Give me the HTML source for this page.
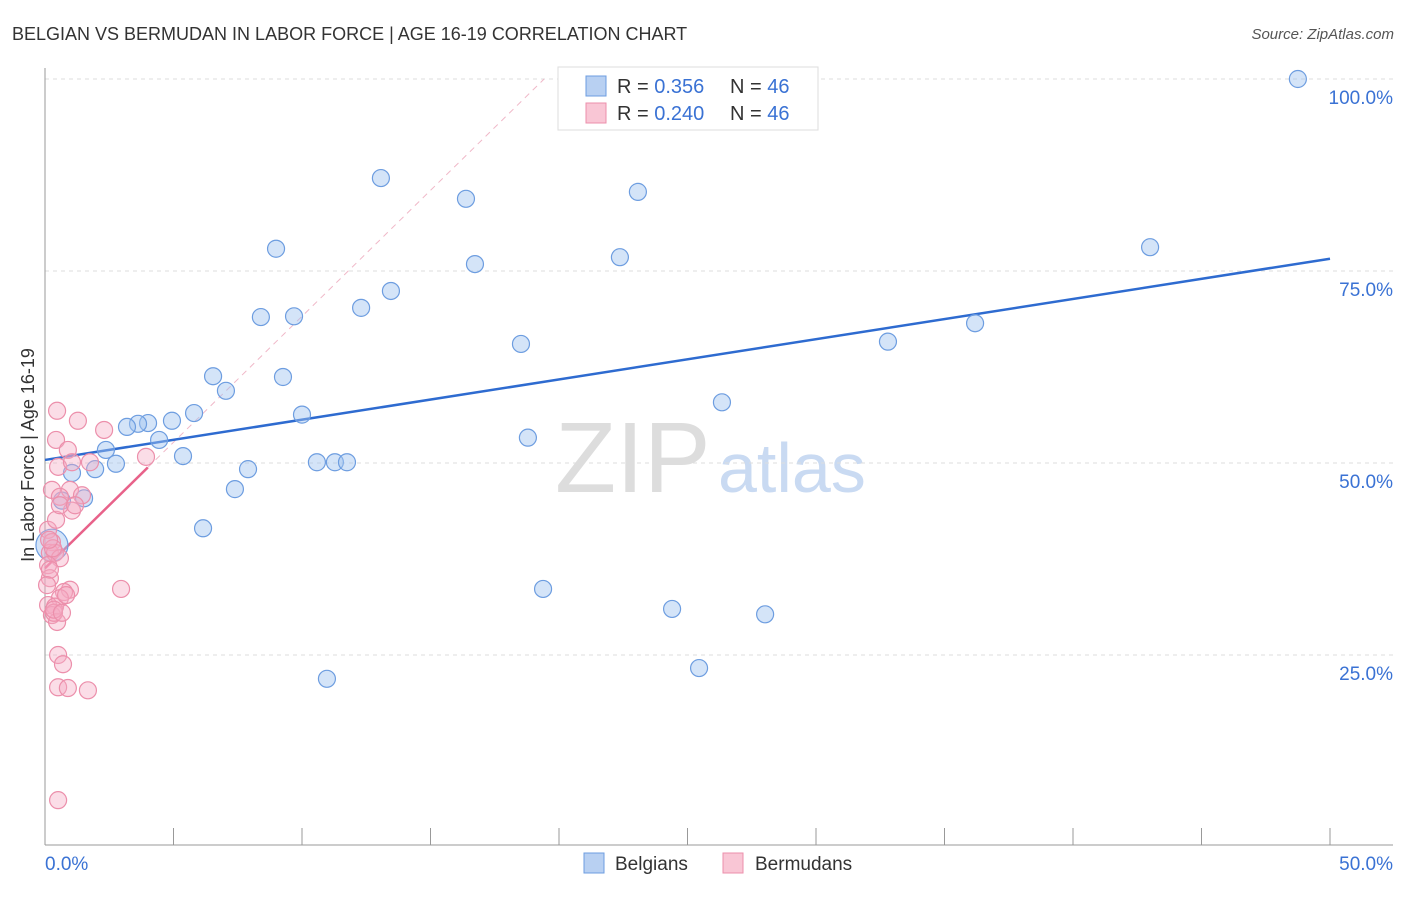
<!DOCTYPE html>
<html><head><meta charset="utf-8"><style>
body{margin:0;background:#fff;font-family:"Liberation Sans",sans-serif;}
svg text{font-family:"Liberation Sans",sans-serif;}
</style></head><body>
<svg id="chart" width="1406" height="892">
<text x="12" y="40" font-size="18" fill="#333">BELGIAN VS BERMUDAN IN LABOR FORCE | AGE 16-19 CORRELATION CHART</text>
<text x="1394" y="39" font-size="15" fill="#555" font-style="italic" text-anchor="end">Source: ZipAtlas.com</text>
<text transform="translate(34,455) rotate(-90)" font-size="18" fill="#333" text-anchor="middle">In Labor Force | Age 16-19</text>
<text x="555" y="492" font-size="100" fill="#ddd" font-family="Liberation Serif">ZIP</text>
<text x="718" y="492" font-size="70" fill="#c9daf2">atlas</text>
<g id="grid"></g><g id="axes"></g><g id="trend"></g><g id="pts"></g>
<g>
<rect x="558" y="67" width="260" height="63" fill="#fff" stroke="#ddd"/>
<rect x="586" y="76" width="20" height="20" fill="#b8d0f2" stroke="#6d9de0"/>
<rect x="586" y="103" width="20" height="20" fill="#f9c6d5" stroke="#ec8fab"/>
<text x="617" y="93" font-size="20" fill="#333">R = <tspan fill="#3a72d4">0.356</tspan></text>
<text x="730" y="93" font-size="20" fill="#333">N = <tspan fill="#3a72d4">46</tspan></text>
<text x="617" y="120" font-size="20" fill="#333">R = <tspan fill="#3a72d4">0.240</tspan></text>
<text x="730" y="120" font-size="20" fill="#333">N = <tspan fill="#3a72d4">46</tspan></text>
</g>
<g><rect x="584" y="853" width="20" height="20" fill="#b8d0f2" stroke="#6d9de0"/><text x="615" y="870" font-size="19" fill="#333">Belgians</text></g>
<g><rect x="723" y="853" width="20" height="20" fill="#f9c6d5" stroke="#ec8fab"/><text x="755" y="870" font-size="19" fill="#333">Bermudans</text></g>
</svg>
<script>
const xTicks=["0.0%","50.0%"];
const yTicks=[100,75,50,25];
const yTickLabels=["100.0%","75.0%","50.0%","25.0%"];
const belgX=[48.75,13.07,16.38,23.07,8.99,16.73,22.37,43.0,13.46,12.30,8.40,9.69,36.19,18.52,32.80,6.54,9.26,7.04,26.34,10.0,5.80,4.94,4.01,3.62,3.19,4.44,18.79,2.37,5.37,10.58,11.28,11.75,2.76,1.95,1.05,7.90,7.39,0.66,1.52,6.15,0.27,19.38,24.40,28.02,25.45,10.97];
const belgY=[100,87.1,84.4,85.3,77.9,75.9,76.8,78.1,72.4,70.2,69.0,69.1,68.2,65.5,65.8,61.3,61.2,59.4,57.9,56.3,56.5,55.5,55.2,55.1,54.7,53.0,53.3,51.7,50.9,50.1,50.1,50.1,49.9,49.2,48.7,49.2,46.6,45.1,45.4,41.5,39.3,33.6,31.0,30.3,23.3,21.9];
const bermX=[0.47,1.28,2.30,0.43,0.89,1.75,0.51,1.05,0.27,0.97,0.58,1.44,1.05,0.12,0.27,0.19,0.39,0.58,0.12,0.19,0.97,0.74,0.58,0.12,0.39,0.27,0.47,0.51,0.70,0.51,0.89,1.67,2.96,3.93,0.51,0.35,0.19,0.31,0.82,0.16,0.43,0.58,1.17,0.35,0.66,0.08];
const bermY=[56.8,55.5,54.3,53.0,51.7,50.1,49.5,50.1,46.5,46.5,45.6,45.8,43.8,41.3,39.7,38.3,38.3,37.6,36.7,35.0,33.5,33.2,32.4,31.5,31.3,30.2,29.3,25.0,23.8,20.8,20.7,20.4,33.6,50.8,6.1,30.5,36.1,38.9,32.8,40.0,42.6,44.5,44.5,30.9,30.5,34.1];
const belgTrend=[50.4,76.6];
const bermTrend=[36.3,3.28];
const X=v=>45+v*1285/50, Y=v=>847-v*7.68;
const NS="http://www.w3.org/2000/svg";
function mk(parent,tag,attrs){const e=document.createElementNS(NS,tag);for(const k in attrs)e.setAttribute(k,attrs[k]);document.getElementById(parent).appendChild(e);return e;}
yTicks.forEach((t,i)=>{
 const l=mk('grid','line',{x1:45,x2:1393,y1:Y(t),y2:Y(t),stroke:'#ddd','stroke-dasharray':'4,4'});
 
 
 const tx=mk('grid','text',{x:1393,y:Y(t)+25,'font-size':19,fill:'#3a72d4','text-anchor':'end'});
 tx.textContent=yTickLabels[i];
 
 
});
mk('axes','line',{x1:45,x2:45,y1:68,y2:845,stroke:'#999'});
mk('axes','line',{x1:45,x2:1393,y1:845,y2:845,stroke:'#999'});
for(let k=0;k<=10;k++){const t=mk('axes','line',{x1:X(k*5),x2:X(k*5),y1:828,y2:845,stroke:'#999'});
 
 }
const xl0=mk('axes','text',{x:45,y:870,'font-size':19,fill:'#3a72d4'});xl0.textContent=xTicks[0];


const xl1=mk('axes','text',{x:1393,y:870,'font-size':19,fill:'#3a72d4','text-anchor':'end'});xl1.textContent=xTicks[1];


const xEnd=(100-bermTrend[0])/bermTrend[1];
const d=mk('trend','line',{x1:X(4),y1:Y(bermTrend[0]+bermTrend[1]*4),x2:X(xEnd),y2:Y(100),stroke:'#f0b8c8','stroke-dasharray':'6,5'});


const bt=mk('trend','line',{x1:X(0),y1:Y(belgTrend[0]),x2:X(50),y2:Y(belgTrend[1]),stroke:'#2e6bd0','stroke-width':2.5});


const pt=mk('trend','line',{x1:X(0),y1:Y(bermTrend[0]),x2:X(4),y2:Y(bermTrend[0]+bermTrend[1]*4),stroke:'#e8628a','stroke-width':2.5});


belgX.forEach((x,i)=>{const c=mk('pts','circle',{cx:X(x),cy:Y(belgY[i]),r:(i==40?16:8.5),fill:'rgba(160,195,240,0.45)',stroke:'#6d9de0','stroke-width':1.2});
 
 });
bermX.forEach((x,i)=>{const c=mk('pts','circle',{cx:X(x),cy:Y(bermY[i]),r:8.5,fill:'rgba(245,170,195,0.4)',stroke:'#ec8fab','stroke-width':1.2});
 
 });
</script>
</body></html>
